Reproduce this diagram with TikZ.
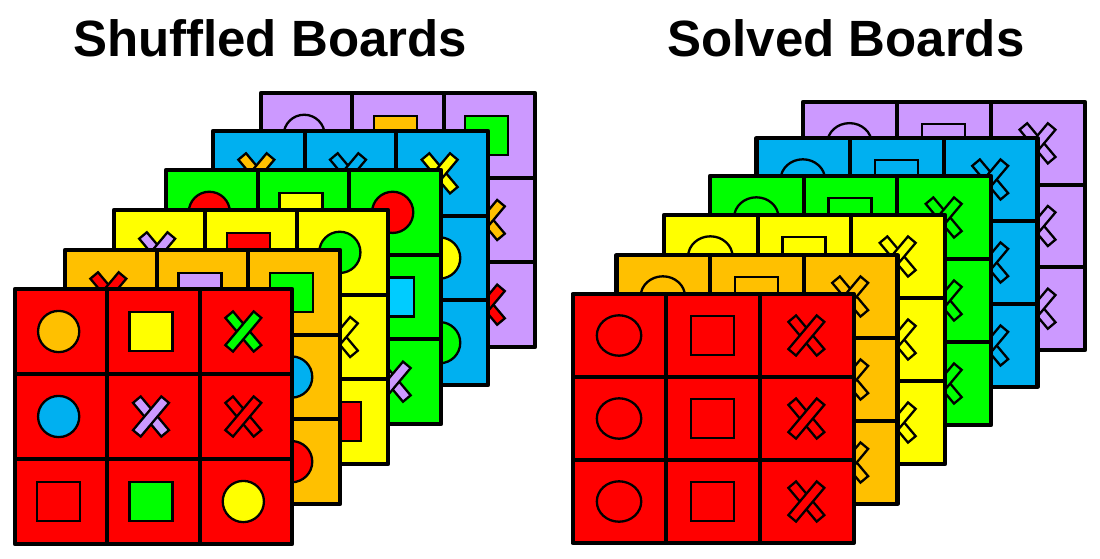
\documentclass[tikz,border=0pt]{standalone}
\usepackage{fontspec}
\setmainfont{Liberation Sans}
\definecolor{bred}{HTML}{FF0000}
\definecolor{borange}{HTML}{FFC000}
\definecolor{byellow}{HTML}{FFFF00}
\definecolor{bgreen}{HTML}{00FF00}
\definecolor{bblue}{HTML}{00B0F0}
\definecolor{bpurple}{HTML}{CC99FF}
\definecolor{bcyan}{HTML}{00CCFF}
\tikzset{
  boardline/.style={line width=4.2pt, line join=round},
  gridline/.style={line width=4pt},
  shapeline/.style={line width=2.3pt, line join=miter},
  titletext/.style={font=\bfseries\fontsize{51}{60}\selectfont, anchor=base, inner sep=0pt},
}
\newcommand\bshpn[3]{}
\newcommand\bshpc[3]{\draw[shapeline,fill=#1] (#2,#3) ellipse [x radius=\crx, y radius=\cry];}
\newcommand\bshps[3]{\draw[shapeline,fill=#1] (#2-21.5,#3-19.5) rectangle (#2+21.5,#3+19.5);}
\newcommand\bshpx[3]{%
  \draw[shapeline,fill=#1,shift={(#2,#3)},rotate=-50] (-22,-5) rectangle (22,5);
  \draw[shapeline,fill=#1,shift={(#2,#3)},rotate=50] (-22,-5) rectangle (22,5);}
% #1 x, #2 y, #3 w, #4 h, #5 colour, #6 cells (row-major)
\newcommand\drawboard[6]{%
  \fill[#5] (#1,#2) rectangle ++(#3,#4);
  \foreach \shp/\clr [count=\i from 0] in {#6} {%
    \pgfmathsetmacro\cx{#1+(mod(\i,3)+0.5)*#3/3+\sxo}%
    \pgfmathsetmacro\cy{#2+(int(\i/3)+0.5)*#4/3}%
    \csname bshp\shp\endcsname{\clr}{\cx}{\cy}%
  }
  \draw[gridline] (#1+#3/3,#2) -- ++(0,#4) (#1+2*#3/3,#2) -- ++(0,#4)
    (#1,#2+#4/3) -- ++(#3,0) (#1,#2+2*#4/3) -- ++(#3,0);
  \draw[boardline] (#1,#2) rectangle ++(#3,#4);
}
\begin{document}
\begin{tikzpicture}[x=1pt,y=-1pt]
\useasboundingbox[fill=white] (0,0) rectangle (1100,558);
% titles
\node[titletext] (t1) at (270,56) {Shuffled Boards};
\node[titletext] (t2) at (846,56) {Solved Boards};
% ---- shuffled boards ----
\def\crx{20.6}\def\cry{20.6}\def\sxo{-2.5}
\drawboard{261}{93}{274}{254}{bpurple}{c/bpurple, s/borange, s/bgreen, n/n, n/n, x/borange, n/n, n/n, x/bred}
\drawboard{213}{131}{275}{254}{bblue}{x/borange, x/bblue, x/byellow, n/n, n/n, c/byellow, n/n, n/n, c/bgreen}
\drawboard{166}{170}{275}{254}{bgreen}{c/bred, s/byellow, c/bred, n/n, n/n, s/bcyan, n/n, n/n, x/bpurple}
\drawboard{114}{210}{274}{254}{byellow}{x/bpurple, s/bred, c/bgreen, n/n, n/n, x/byellow, n/n, n/n, s/bred}
\drawboard{65}{250}{275}{254}{borange}{x/bred, s/bpurple, s/bgreen, n/n, n/n, c/bblue, n/n, n/n, c/bred}
\drawboard{15}{289}{277}{255}{bred}{c/borange, s/byellow, x/bgreen, c/bblue, x/bpurple, x/bred, s/bred, s/bgreen, c/byellow}
% ---- solved boards ----
\def\crx{22.2}\def\cry{20.2}\def\sxo{-0.5}
\drawboard{803}{102}{282}{248}{bpurple}{c/bpurple, s/bpurple, x/bpurple, c/bpurple, s/bpurple, x/bpurple, c/bpurple, s/bpurple, x/bpurple}
\drawboard{756.5}{138}{281}{249}{bblue}{c/bblue, s/bblue, x/bblue, c/bblue, s/bblue, x/bblue, c/bblue, s/bblue, x/bblue}
\drawboard{710}{176}{281}{249}{bgreen}{c/bgreen, s/bgreen, x/bgreen, c/bgreen, s/bgreen, x/bgreen, c/bgreen, s/bgreen, x/bgreen}
\drawboard{664}{215}{281}{249}{byellow}{c/byellow, s/byellow, x/byellow, c/byellow, s/byellow, x/byellow, c/byellow, s/byellow, x/byellow}
\drawboard{616.5}{255}{281}{249}{borange}{c/borange, s/borange, x/borange, c/borange, s/borange, x/borange, c/borange, s/borange, x/borange}
\drawboard{572.7}{294}{281}{249}{bred}{c/bred, s/bred, x/bred, c/bred, s/bred, x/bred, c/bred, s/bred, x/bred}
\end{tikzpicture}
\end{document}
